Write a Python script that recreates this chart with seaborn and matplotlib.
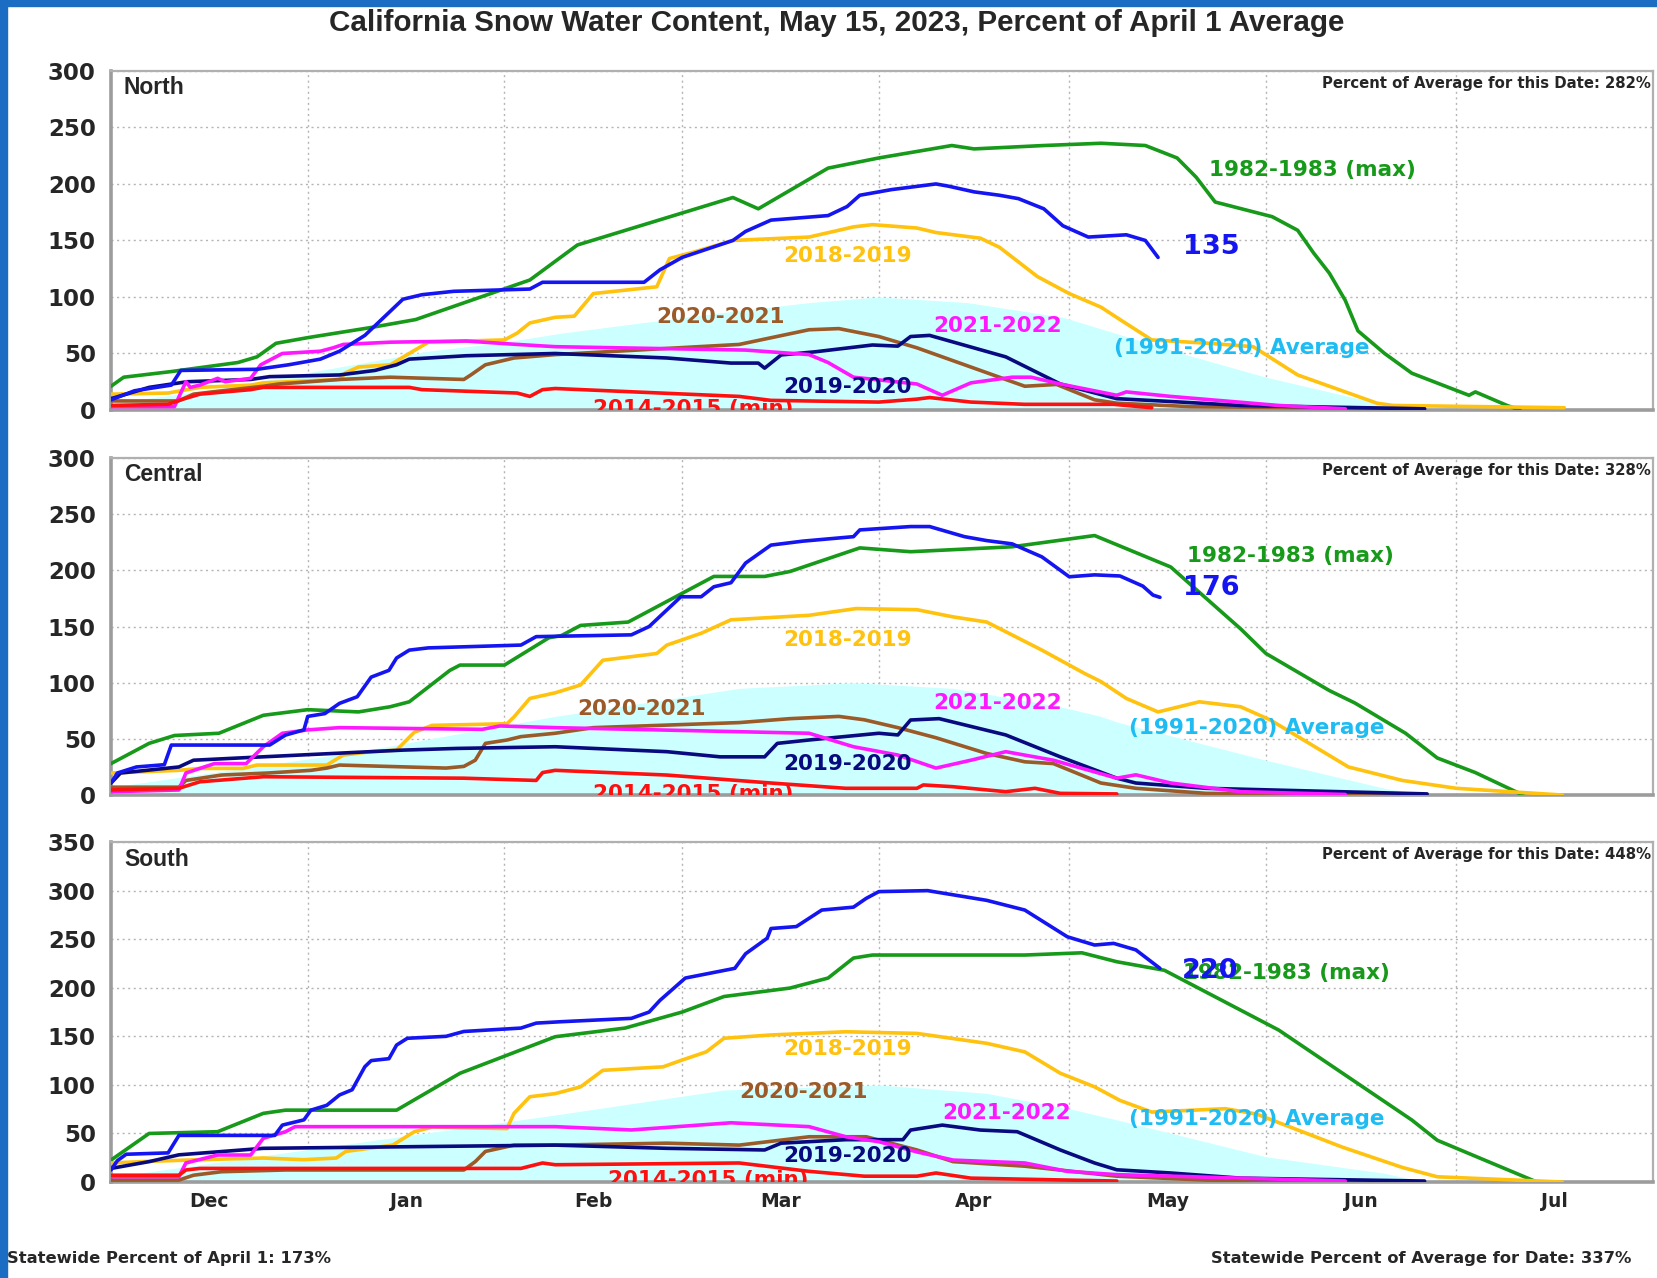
import matplotlib
matplotlib.use("Agg")
import matplotlib.pyplot as plt
import seaborn as sns
import pandas as pd
from matplotlib.patches import Rectangle

# ---------------- data ----------------
MONTHS = ["Dec", "Jan", "Feb", "Mar", "Apr", "May", "Jun", "Jul"]
MONTH_DAYS = [31, 31, 28, 31, 30, 31, 30, 31]   # x axis: days since Dec 1

TITLE = "California Snow Water Content, May 15, 2023, Percent of April 1 Average"
REGIONS = ["North", "Central", "South"]
PCT_FOR_DATE = [282, 328, 448]
STATEWIDE_APR1 = 173
STATEWIDE_DATE = 337
YMAX = [300, 300, 350]

# ---- North ----
N_AVG = [(0, 6), (16, 18), (36, 38), (50, 52), (62, 60), (71, 68), (96, 86), (110, 95), (121, 100),
         (135, 95), (150, 82), (160, 65), (170, 48), (182, 29), (195, 12), (201, 5), (207, 0)]
N_MAX = [(0, 21), (2, 29), (9.5, 34), (20, 42), (23, 47), (26, 59), (31, 64), (41, 73), (48, 80),
         (66, 115), (73.5, 146), (98, 188), (102, 178), (113, 214), (121, 223), (132.5, 234),
         (136, 231), (147, 234), (156, 236), (163, 234), (168, 223), (171, 206), (174, 184),
         (183, 171), (187, 159), (189.5, 139), (192, 121), (194.5, 97), (196.5, 70), (200.7, 50),
         (205, 32.5), (214, 13), (215, 16), (220, 4), (222, 0)]
N_CUR = [(0, 9), (3.7, 17), (9.5, 22), (11, 35), (23, 36), (28, 40), (33, 45), (36, 52), (40, 66),
         (43, 82), (46, 98), (49, 102), (54, 105), (66, 107), (68, 113), (84, 113), (86.5, 124),
         (90, 135), (98, 150), (100, 158), (104, 168), (113, 172), (116, 180), (118, 190),
         (123, 195), (130, 200), (132, 198), (136, 193), (140, 190), (143, 187), (147, 178),
         (150, 163), (154, 153), (160, 155), (163, 150), (165, 135)]
N_1819 = [(0, 14), (9, 15), (14, 20), (22, 22), (24, 24), (36, 27), (37, 33), (39, 38), (44, 40),
          (47, 50), (50, 60), (62, 62), (64, 68), (66, 77), (70, 82), (73, 83), (76, 103), (86, 109),
          (88, 134), (92, 140), (98, 150), (110, 153), (117, 162), (120, 164), (127, 161),
          (130, 157), (137, 152), (140, 144), (146, 118), (151, 103), (156, 91), (159, 80),
          (164, 62), (173, 59), (180, 56), (187, 31), (199.5, 6), (202, 4), (229, 2)]
N_2122 = [(0, 3), (10, 3), (11.8, 25), (12.5, 20), (14, 22), (16.8, 28), (18, 25), (22, 28),
          (23.6, 40), (27, 50), (33, 52), (35, 55), (36.6, 58), (44, 60), (56, 61), (64, 58),
          (70, 56), (100, 53), (110, 49), (113, 42), (117, 29), (127, 23), (131, 13), (135.5, 24),
          (142, 29), (145, 29), (149.6, 23), (158.5, 13), (160, 16), (167, 12), (184, 4), (194.5, 1)]
N_1920 = [(0, 10), (6, 20), (12, 25), (22, 27), (25, 29.5), (36, 31), (41.6, 35), (45, 40),
          (47, 45), (56, 48), (70, 50), (87.6, 46), (97.7, 41.5), (102, 41.5), (103, 37),
          (105.6, 48.7), (111, 51.5), (120, 57.5), (124, 56.5), (126, 65), (129, 66), (141, 47),
          (149.6, 23), (158.5, 10), (167, 7.5), (178, 4), (207, 1)]
N_2021 = [(0, 8), (10.6, 8), (13, 14), (16, 16), (24, 21), (26.5, 23), (36, 27), (44, 29),
          (55.6, 27), (56.7, 31), (59, 40), (63.5, 46), (70, 49), (99, 58), (110, 71),
          (114.7, 72), (121, 65), (127, 55), (135, 39), (144, 21), (149, 22.6), (155, 9),
          (158.5, 6), (170, 3), (207, 1)]
N_1415 = [(0, 4), (9, 5), (11, 9), (14, 14), (22, 18), (24, 20), (47, 20), (49, 18), (64, 15),
          (66, 12), (68, 18), (70, 19), (99, 12), (104, 8.5), (121, 7), (127, 9.6), (129, 11),
          (135.5, 7), (144, 5), (158, 5), (164, 2)]

# ---- Central ----
C_AVG = [(0, 7), (39, 38.6), (70, 70), (99, 95), (117, 100), (132.7, 95), (149.6, 78.6),
         (156, 70), (158.5, 65), (182, 31), (200.7, 6), (207, 0)]
C_MAX = [(0, 28), (6, 46), (10, 53), (17, 55), (24, 71), (31, 76), (39, 74), (44, 78.6), (47, 83),
         (53.4, 111), (55, 115.7), (62, 115.7), (69, 140), (71, 142), (74, 151), (81.5, 154),
         (95, 194.6), (103, 194.6), (107, 199), (118, 220), (126, 216.6), (142, 221), (155, 231),
         (161, 217), (167, 203), (178, 148), (182, 126), (192, 93), (196, 82), (204, 55),
         (209, 33), (215, 20), (222.5, 0)]
C_CUR = [(0, 10.7), (1, 19.6), (4, 25), (8.4, 27), (9.5, 44.5), (25, 44.5), (27.5, 53.4),
         (30.4, 58), (31, 70), (33.7, 72.5), (36, 81.6), (38.8, 87.5), (41, 105), (43.8, 111),
         (45, 122), (47, 129), (50, 131), (64.6, 133.5), (67, 141), (82, 142.6), (84.8, 150),
         (89.8, 176.5), (93, 176.5), (95, 185.4), (97.7, 189), (100, 206.5), (104, 222.5),
         (109, 226), (117, 230), (118, 236), (126, 239), (129, 239), (134.5, 230), (138, 226.5),
         (142, 223.6), (146.7, 212), (151, 194.3), (155, 196), (159, 195), (162.6, 186),
         (164.2, 178), (165.3, 176)]
C_1819 = [(0, 19.6), (10.7, 22), (14, 23.7), (20.8, 23.7), (23, 26.7), (34, 26.7), (36.6, 35.6),
          (41, 38.6), (45, 40), (47.8, 56), (50.6, 62), (62.4, 63.5), (63.5, 69.5), (66, 86),
          (70, 91), (74, 98), (77.5, 120), (86, 126), (87.6, 133.5), (93, 144), (97.7, 156),
          (110, 160), (117.4, 166), (127, 165), (132.7, 158.6), (138, 154), (146.7, 129),
          (153.5, 108), (156, 101), (160, 86), (165, 74), (171.5, 83), (178, 78.6), (182.7, 66.8),
          (195, 25), (203.5, 13), (212, 6), (228.7, 0)]
C_2122 = [(0, 3), (10.7, 4.5), (11.8, 19.6), (16.3, 28), (21.3, 28), (24, 43), (27, 55), (31, 58),
          (36, 60), (58.5, 58.5), (61.3, 61.5), (70, 60), (110, 55), (117, 43), (124, 35.6),
          (130, 24), (135.5, 31), (141, 38.6), (148.5, 31), (158.5, 15), (161.5, 18), (167, 10.7),
          (178, 3), (194.5, 0.5)]
C_1920 = [(0, 10.7), (1.5, 19.6), (10.7, 25), (13, 31), (22, 33.5), (46, 40), (54.5, 41.5),
          (70, 43), (87.6, 38.6), (96, 34), (103, 34), (105, 46), (110, 49), (121, 55),
          (124, 53.5), (126, 66.8), (130.5, 68), (141, 53.5), (149.6, 34), (158.5, 15),
          (161.5, 10.7), (172.6, 6), (207.4, 1)]
C_2021 = [(0, 7), (10.7, 7), (11.8, 13), (17.4, 17.8), (24.7, 19.6), (31.5, 22), (34, 24),
          (36, 26.7), (52.8, 24), (55.6, 25.5), (57.4, 31), (59, 46), (62.4, 49), (64.6, 52),
          (70, 55), (76, 60), (99, 64.5), (107, 68), (114.7, 70), (118.7, 67), (124, 60),
          (130, 51), (138, 37), (144, 29.6), (148.5, 28), (156, 10.7), (161.5, 6), (172.6, 1.5),
          (207, 0)]
C_1415 = [(0, 4.5), (10.7, 6), (14, 11.8), (24, 16.3), (55.6, 15), (67, 13), (68, 20), (70, 22),
          (87.6, 17.8), (104, 10.7), (115.8, 6), (127, 6), (128, 9), (132.7, 7.4), (141, 3),
          (145.6, 6), (149.6, 1.5), (158.5, 1)]

# ---- South ----
S_AVG = [(0, 5), (70, 69), (96.6, 94.7), (121, 100), (138, 91.3), (152, 74), (158.5, 64),
         (182, 26), (200.7, 9), (207, 0)]
S_MAX = [(0, 22.6), (6, 50), (16.8, 51.8), (24, 70.7), (27.5, 74), (45, 74), (55, 112),
         (70, 149.6), (81, 158.5), (90, 175), (96.6, 191), (107, 199.7), (113, 210),
         (117, 230.6), (120, 233.7), (144, 233.7), (153, 236), (158.5, 226.8), (166, 218),
         (184, 156.5), (205, 63.8), (209, 43), (224.7, 0)]
S_CUR = [(0, 12.4), (1, 22), (2.4, 28.6), (9, 30), (10.7, 48), (25.8, 48), (27, 58.6),
         (30.4, 64), (31.5, 74), (34, 79), (36, 89.6), (38, 95), (40, 118.7), (41, 125),
         (43.8, 127), (45, 141), (46.7, 148), (52.8, 150), (55.6, 155), (64.6, 158.5), (67, 163.6),
         (70.8, 165), (82, 168.5), (84.8, 175), (86.5, 187), (90.5, 210), (98.3, 220), (100, 235),
         (103.4, 251), (104, 261), (108, 263), (112, 280), (117, 283), (119, 292), (121, 299),
         (128.7, 300), (138, 290), (144, 280), (150.7, 252.5), (155, 244), (158, 245.7),
         (161.5, 239), (165.3, 220)]
S_1819 = [(0, 19.6), (6, 21.3), (14, 23), (24, 24.7), (30.4, 23), (35.5, 24.7), (37, 31.5),
          (44.4, 38), (47.8, 51.8), (50.6, 56.6), (62.4, 55), (63.5, 70.7), (66, 87.8), (70, 91),
          (74, 98), (77.5, 115), (87, 118.6), (90, 125.6), (93.8, 134), (96.6, 148), (104, 151.4),
          (115.8, 154.7), (127, 153), (138, 142.8), (144, 134), (149.6, 112), (155, 98), (159, 84),
          (164, 72), (175.6, 75.5), (180.5, 70), (194, 36), (203.5, 15), (209, 5.4), (228.7, 0)]
S_2122 = [(0, 5.5), (10.7, 5.5), (11.8, 19.6), (16.8, 27.8), (22, 27.8), (24, 45), (27.5, 51.8),
          (29, 57), (70, 57), (82, 53.6), (97.7, 61), (110, 57), (115.8, 46.6), (121, 41.5),
          (127, 31), (132.7, 22.6), (144, 19.6), (150.7, 11), (158.5, 7.6), (178, 4), (194.5, 1)]
S_1920 = [(0, 14), (6, 21), (10.7, 28), (24, 34.7), (70, 38), (87.6, 34.7), (103, 33),
          (105.6, 40), (115.8, 43.6), (124.8, 43.6), (126, 53.5), (131, 58.6), (137, 53.5),
          (142.8, 51.8), (149.6, 33), (155, 19.6), (158.5, 12.6), (167, 9.3), (178, 4), (207, 1)]
S_2021 = [(0, 2), (10.7, 2), (13, 7), (17.4, 10.6), (27.5, 12.4), (55.6, 12.4), (57.4, 21),
          (59, 31.5), (63.5, 38), (70, 38), (87.6, 40), (99, 38), (110, 46.6), (119, 46.6),
          (127, 33), (132.7, 21), (144, 16.3), (158.5, 6), (172.6, 2), (207, 0)]
S_1415 = [(0, 7), (10.7, 7), (11.8, 12.4), (14, 14), (64.6, 14), (68, 19.6), (70, 17.8),
          (99, 19.6), (110, 11), (118.7, 6), (127, 6), (130, 9.3), (135.5, 4), (158.5, 1)]

SERIES_NAMES = ["1982-1983 (max)", "2018-2019", "2020-2021", "2019-2020", "2021-2022",
                "2014-2015 (min)", "2022-2023"]
PANEL_SERIES = [
    [N_MAX, N_1819, N_2021, N_1920, N_2122, N_1415, N_CUR],
    [C_MAX, C_1819, C_2021, C_1920, C_2122, C_1415, C_CUR],
    [S_MAX, S_1819, S_2021, S_1920, S_2122, S_1415, S_CUR],
]
PANEL_AVG = [N_AVG, C_AVG, S_AVG]
AVG_NAME = "(1991-2020) Average"

# ---------------- style ----------------
COLORS = {"1982-1983 (max)": "#17991a", "2018-2019": "#ffc20e", "2020-2021": "#9b5a28",
          "2019-2020": "#0a0a80", "2021-2022": "#ff18ff", "2014-2015 (min)": "#ff1010",
          "2022-2023": "#1515f2"}
AVG_FILL = "#ccffff"
AVG_TEXT = "#1ebcf2"
BORDER_BLUE = "#1a6dc2"

# label anchor positions (day, value) per panel
LABEL_POS = [
    {"1982-1983 (max)": (173, 212), "2022-2023": (169, 144), "2018-2019": (106, 136),
     "2020-2021": (86, 82.5), "2021-2022": (129.6, 74), AVG_NAME: (158, 55),
     "2019-2020": (106, 20.6), "2014-2015 (min)": (76, -4)},
    {"1982-1983 (max)": (169.5, 212.5), "2022-2023": (169, 184), "2018-2019": (106, 138),
     "2020-2021": (73.4, 77), "2021-2022": (129.6, 82), AVG_NAME: (160.4, 60),
     "2019-2020": (106, 28), "2014-2015 (min)": (76, -4)},
    {"1982-1983 (max)": (169, 215), "2022-2023": (168.7, 217), "2018-2019": (106, 137),
     "2020-2021": (99, 92.7), "2021-2022": (131, 71), AVG_NAME: (160.4, 65),
     "2019-2020": (106, 27), "2014-2015 (min)": (78.3, -4.5)},
]

AX_RECTS = [[0.0670, 0.6792, 0.9306, 0.2653],
            [0.0670, 0.3779, 0.9306, 0.2637],
            [0.0670, 0.0751, 0.9306, 0.2660]]

sns.set_style("white")
plt.rcParams["font.family"] = ["DejaVu Sans"]

fig = plt.figure(figsize=(16.57, 12.78), dpi=100)

starts = [0]
for m in MONTH_DAYS:
    starts.append(starts[-1] + m)
mids = [(starts[i] + starts[i + 1]) / 2 for i in range(len(MONTHS))]

BOLD = dict(fontweight="bold")
LAB_FS = 15.5

for i, ax_rect in enumerate(AX_RECTS):
    ax = fig.add_axes(ax_rect)
    avg = pd.DataFrame(PANEL_AVG[i], columns=["day", "pct"])
    ax.fill_between(avg["day"], avg["pct"], 0, color=AVG_FILL, lw=0, zorder=1)
    for name, pts in zip(SERIES_NAMES, PANEL_SERIES[i]):
        df = pd.DataFrame(pts, columns=["day", "pct"])
        z = 5 if name == "2022-2023" else 3
        sns.lineplot(data=df, x="day", y="pct", ax=ax, color=COLORS[name], lw=2.6,
                     estimator=None, sort=False, legend=False, zorder=z)
    ax.set_xlim(0, starts[-1])
    ax.set_ylim(0, YMAX[i])
    ax.set_yticks(list(range(0, YMAX[i] + 1, 50)))
    ax.set_xticks(starts[1:-1])
    ax.set_xticklabels([])
    ax.set_xlabel("")
    ax.set_ylabel("")
    ax.grid(True, which="major", ls=(0, (1.5, 2.5)), color="#b5b5b5", lw=1.0, zorder=0)
    ax.set_axisbelow(True)
    for side in ["left", "bottom"]:
        ax.spines[side].set_color("#9c9c9c")
        ax.spines[side].set_linewidth(2.6)
    for side in ["top", "right"]:
        ax.spines[side].set_color("#b0b0b0")
        ax.spines[side].set_linewidth(1.6)
    ax.tick_params(axis="y", length=4, color="#aaaaaa", pad=7, labelsize=16.5)
    for lab in ax.get_yticklabels():
        lab.set_fontweight("bold")
    if i == 2:
        ax.tick_params(axis="x", which="major", length=5, color="#999999")
        ax.set_xticks(mids, minor=True)
        ax.set_xticklabels(MONTHS, minor=True, fontsize=13.5, fontweight="bold")
        ax.tick_params(axis="x", which="minor", length=0, pad=7)
    else:
        ax.tick_params(axis="x", which="major", length=0)

    ax.text(0.0084, 0.95, REGIONS[i], transform=ax.transAxes, fontsize=16.5, ha="left",
            va="center", family=["Liberation Sans", "DejaVu Sans"], **BOLD)
    ax.text(0.9987, 0.963, f"Percent of Average for this Date: {PCT_FOR_DATE[i]}%",
            transform=ax.transAxes, fontsize=10.7, ha="right", va="center", **BOLD)

    pos = LABEL_POS[i]
    for name in SERIES_NAMES:
        x, y = pos[name]
        if name == "2022-2023":
            txt = f"{PANEL_SERIES[i][-1][-1][1]:.0f}"
            ax.text(x, y, txt, color=COLORS[name], fontsize=19.5, ha="left", va="center",
                    zorder=8, **BOLD)
        elif name == "2014-2015 (min)":
            ax.text(x, y, name, color=COLORS[name], fontsize=LAB_FS, ha="left", va="baseline",
                    zorder=8, clip_on=True, **BOLD)
        else:
            ax.text(x, y, name, color=COLORS[name], fontsize=LAB_FS, ha="left", va="center",
                    zorder=8, **BOLD)
    x, y = pos[AVG_NAME]
    ax.text(x, y, AVG_NAME, color=AVG_TEXT, fontsize=LAB_FS, ha="left", va="center", zorder=8,
            **BOLD)

fig.text(0.505, 0.982, TITLE, ha="center", va="center", fontsize=21.3,
         family=["Liberation Sans", "DejaVu Sans"], **BOLD)
fig.text(0.0042, 0.0156, f"Statewide Percent of April 1: {STATEWIDE_APR1}%", ha="left",
         va="center", fontsize=11.8, **BOLD)
fig.text(0.9843, 0.0156, f"Statewide Percent of Average for Date: {STATEWIDE_DATE}%", ha="right",
         va="center", fontsize=11.8, **BOLD)

fig.patches.append(Rectangle((0, 0), 7 / 1657, 1, transform=fig.transFigure,
                             color=BORDER_BLUE, zorder=10))
fig.patches.append(Rectangle((0, 1 - 6 / 1278), 1, 6 / 1278, transform=fig.transFigure,
                             color=BORDER_BLUE, zorder=10))

fig.savefig("out.png", dpi=100)
